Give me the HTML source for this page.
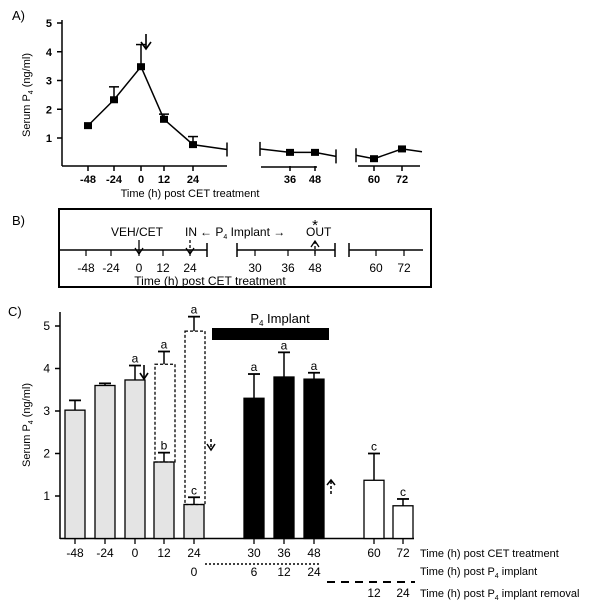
<!DOCTYPE html>
<html><head><meta charset="utf-8"><style>
body{margin:0;background:#fff}
svg{display:block;font-family:"Liberation Sans",sans-serif}
</style></head><body>
<svg id="fig" width="600" height="606" viewBox="0 0 600 606">
<g id="pa"></g>
<g id="pb"></g>
<g id="pc"></g>
</svg>
<script>
// Panel A data
const aCats=[-48,-24,0,12,24,36,48,60,72];
const aVals=[1.43,2.33,3.48,1.65,0.77,0.5,0.5,0.28,0.62];
const aErr=[0,0.45,0.77,0.18,0.28,0,0,0,0];
const aTicks=[1,2,3,4,5];
// Panel C data
const cCats=["-48","-24","0","12","24","30","36","48","60","72"];
const cVals=[3.02,3.6,3.73,1.8,0.8,3.3,3.8,3.75,1.37,0.77];
const cErr=[0.23,0.05,0.34,0.22,0.17,0.57,0.58,0.15,0.63,0.16];
const cLetters=["","","a","b","c","a","a","a","c","c"];
const cKind=["g","g","g","g","g","b","b","b","w","w"];
const cDashCats=["12","24"];
const cDashVals=[4.1,4.88];
const cDashErr=[0.3,0.34];
const cTicks=[1,2,3,4,5];
const implantLabels=["0","6","12","24"];
const removalLabels=["12","24"];

const NS="http://www.w3.org/2000/svg";
function el(p,t,a,txt){const e=document.createElementNS(NS,t);for(const k in a)e.setAttribute(k,a[k]);if(txt!==undefined)e.textContent=txt;p.appendChild(e);return e;}
const pa=document.getElementById('pa'),pb=document.getElementById('pb'),pc=document.getElementById('pc');

// ---------- Panel A ----------
let t=el(pa,'text',{x:12,y:20,'font-size':13},'A)');


const ay=v=>166.75-v*28.75;
const axPos={"-48":88,"-24":114,"0":141,"12":164,"24":193,"36":290,"48":315,"60":374,"72":402};
const ax=c=>axPos[String(c)];
el(pa,'line',{x1:62,y1:20,x2:62,y2:166,stroke:'#000','stroke-width':1.5});
el(pa,'line',{x1:62,y1:166,x2:227,y2:166,stroke:'#000','stroke-width':1.5});
el(pa,'line',{x1:261,y1:167,x2:317,y2:167,stroke:'#000','stroke-width':1.5});
el(pa,'line',{x1:358,y1:166,x2:420,y2:166,stroke:'#000','stroke-width':1.5});
aTicks.forEach(v=>{el(pa,'line',{x1:57,y1:ay(v),x2:62,y2:ay(v),stroke:'#000','stroke-width':1.5});
 t=el(pa,'text',{x:52,y:ay(v)+4,'font-size':11,'font-weight':'bold','text-anchor':'end'},v);
 });
aCats.forEach(c=>{el(pa,'line',{x1:ax(c),y1:166,x2:ax(c),y2:171,stroke:'#000','stroke-width':1.5});
 t=el(pa,'text',{x:ax(c),y:183,'font-size':11,'font-weight':'bold','text-anchor':'middle'},c);
 });
t=el(pa,'text',{x:30,y:95,'font-size':11,'text-anchor':'middle',transform:'rotate(-90 30 95)'});
t.innerHTML='Serum P<tspan font-size="7" dy="3">4</tspan><tspan dy="-3"> (ng/ml)</tspan>';

t=el(pa,'text',{x:190,y:197,'font-size':11,'text-anchor':'middle'},'Time (h) post CET treatment');

function poly(pts){return pts.map(p=>p.join(',')).join(' ');}
const s1=aCats.slice(0,5).map((c,i)=>[ax(c),ay(aVals[i])]);s1.push([227,ay(0.6)]);
el(pa,'polyline',{points:poly(s1),fill:'none',stroke:'#000','stroke-width':1.5});
const s2=[[260,ay(0.62)]].concat(aCats.slice(5,7).map((c,i)=>[ax(c),ay(aVals[5+i])]));s2.push([336,ay(0.36)]);
el(pa,'polyline',{points:poly(s2),fill:'none',stroke:'#000','stroke-width':1.5});
const s3=[[356,ay(0.4)]].concat(aCats.slice(7,9).map((c,i)=>[ax(c),ay(aVals[7+i])]));s3.push([422,ay(0.52)]);
el(pa,'polyline',{points:poly(s3),fill:'none',stroke:'#000','stroke-width':1.5});
[[227,ay(0.6)],[260,ay(0.62)],[336,ay(0.36)],[356,ay(0.4)]].forEach(p=>el(pa,'line',{x1:p[0],y1:p[1]-7,x2:p[0],y2:p[1]+7,stroke:'#000','stroke-width':1.5}));
aCats.forEach((c,i)=>{
 if(aErr[i]>0){const y2=ay(aVals[i]+aErr[i]);el(pa,'line',{x1:ax(c),y1:ay(aVals[i]),x2:ax(c),y2:y2,stroke:'#000','stroke-width':1.5});el(pa,'line',{x1:ax(c)-5,y1:y2,x2:ax(c)+5,y2:y2,stroke:'#000','stroke-width':1.5});}
 const r=el(pa,'rect',{x:ax(c)-4,y:ay(aVals[i])-3.5,width:8,height:7,fill:'#000'});
 
});
el(pa,'line',{x1:146,y1:34,x2:146,y2:48,stroke:'#000','stroke-width':1.6});
el(pa,'polyline',{points:'141,42 146,49 151,42',fill:'none',stroke:'#000','stroke-width':1.6});

// ---------- Panel B ----------
t=el(pb,'text',{x:12,y:225,'font-size':13},'B)');

el(pb,'rect',{x:59,y:209,width:372,height:78,fill:'none',stroke:'#000','stroke-width':2});
el(pb,'line',{x1:59,y1:250,x2:207,y2:250,stroke:'#000','stroke-width':1.5});
el(pb,'line',{x1:237,y1:250,x2:335,y2:250,stroke:'#000','stroke-width':1.5});
el(pb,'line',{x1:349,y1:250,x2:423,y2:250,stroke:'#000','stroke-width':1.5});
[207,237,335,349].forEach(x=>el(pb,'line',{x1:x,y1:243,x2:x,y2:257,stroke:'#000','stroke-width':1.5}));
const bTicks=[["-48",86],["-24",111],["0",139],["12",163],["24",190],["30",255],["36",288],["48",315],["60",376],["72",404]];
bTicks.forEach(b=>{el(pb,'line',{x1:b[1],y1:250,x2:b[1],y2:256,stroke:'#000','stroke-width':1.2});
 t=el(pb,'text',{x:b[1],y:272,'font-size':12,'text-anchor':'middle'},b[0]);
 });
t=el(pb,'text',{x:210,y:285,'font-size':12,'text-anchor':'middle'},'Time (h) post CET treatment');

t=el(pb,'text',{x:137,y:236,'font-size':12,'text-anchor':'middle'},'VEH/CET');

el(pb,'line',{x1:139,y1:240,x2:139,y2:254,stroke:'#000','stroke-width':1.3});
el(pb,'polyline',{points:'135,248 139,254 143,248',fill:'none',stroke:'#000','stroke-width':1.3});
t=el(pb,'text',{x:185,y:236,'font-size':12},'IN');

el(pb,'line',{x1:190,y1:240,x2:190,y2:254,stroke:'#000','stroke-width':1.3,'stroke-dasharray':'3,2'});
el(pb,'polyline',{points:'186,248 190,254 194,248',fill:'none',stroke:'#000','stroke-width':1.3});
t=el(pb,'text',{x:200,y:236,'font-size':12});
t.innerHTML='<tspan font-weight="bold">←</tspan> P<tspan font-size="7" dy="3">4</tspan><tspan dy="-3"> Implant </tspan><tspan font-weight="bold">→</tspan>';

t=el(pb,'text',{x:306,y:236,'font-size':12},'OUT');

t=el(pb,'text',{x:315,y:230,'font-size':15,'text-anchor':'middle'},'*');
el(pb,'line',{x1:315,y1:241,x2:315,y2:254,stroke:'#000','stroke-width':1.3,'stroke-dasharray':'3,2'});
el(pb,'polyline',{points:'311,247 315,241 319,247',fill:'none',stroke:'#000','stroke-width':1.3});

// ---------- Panel C ----------
t=el(pc,'text',{x:8,y:316,'font-size':13},'C)');

const cy=v=>538.5-v*42.5;
const cPos={"-48":75,"-24":105,"0":135,"12":164,"24":194,"30":254,"36":284,"48":314,"60":374,"72":403};
const cx=c=>cPos[c];
const bw=20;
el(pc,'line',{x1:60,y1:312,x2:60,y2:539,stroke:'#000','stroke-width':1.5});
el(pc,'line',{x1:60,y1:538.5,x2:414,y2:538.5,stroke:'#000','stroke-width':1.5});
cTicks.forEach(v=>{el(pc,'line',{x1:55,y1:cy(v),x2:60,y2:cy(v),stroke:'#000','stroke-width':1.5});
 t=el(pc,'text',{x:50,y:cy(v)+4,'font-size':12,'text-anchor':'end'},v);
 });
t=el(pc,'text',{x:30,y:425,'font-size':11,'text-anchor':'middle',transform:'rotate(-90 30 425)'});
t.innerHTML='Serum P<tspan font-size="7" dy="3">4</tspan><tspan dy="-3"> (ng/ml)</tspan>';

cCats.forEach((c,i)=>{
 const x=cx(c);
 el(pc,'line',{x1:x,y1:538,x2:x,y2:544,stroke:'#000','stroke-width':1.3});
 t=el(pc,'text',{x:x,y:557,'font-size':12,'text-anchor':'middle'},c);
 
 const fill=cKind[i]=='g'?'#e4e4e4':cKind[i]=='b'?'#000':'#fff';
 const top=cVals[i]+cErr[i];
 el(pc,'line',{x1:x,y1:cy(cVals[i]),x2:x,y2:cy(top),stroke:'#000','stroke-width':1.5});
 el(pc,'line',{x1:x-6,y1:cy(top),x2:x+6,y2:cy(top),stroke:'#000','stroke-width':1.8});
 const r=el(pc,'rect',{x:x-bw/2,y:cy(cVals[i]),width:bw,height:538.5-cy(cVals[i]),fill:fill,stroke:'#000','stroke-width':1.3});
 
 if(cLetters[i]){t=el(pc,'text',{x:x,y:cy(top)-3,'font-size':12,'text-anchor':'middle'},cLetters[i]);
  }
});
cDashCats.forEach((c,i)=>{
 const x=cx(c),v=cDashVals[i],top=v+cDashErr[i];
 const bi=cCats.indexOf(c);
 const r=el(pc,'rect',{x:x-bw/2+1,y:cy(v),width:bw,height:cy(cVals[bi])-cy(v),fill:'none',stroke:'#000','stroke-width':1.3,'stroke-dasharray':'3,2'});
 
 el(pc,'line',{x1:x,y1:cy(v),x2:x,y2:cy(top),stroke:'#000','stroke-width':1.5});
 el(pc,'line',{x1:x-6,y1:cy(top),x2:x+6,y2:cy(top),stroke:'#000','stroke-width':1.8});
 t=el(pc,'text',{x:x,y:cy(top)-3,'font-size':12,'text-anchor':'middle'},'a');
 
});
el(pc,'line',{x1:144,y1:365,x2:144,y2:379,stroke:'#000','stroke-width':1.6});
el(pc,'polyline',{points:'140,373 144,379 148,373',fill:'none',stroke:'#000','stroke-width':1.6});
el(pc,'line',{x1:211,y1:439,x2:211,y2:450,stroke:'#000','stroke-width':1.5,'stroke-dasharray':'3,2'});
el(pc,'polyline',{points:'207,444 211,450 215,444',fill:'none',stroke:'#000','stroke-width':1.5});
el(pc,'line',{x1:331,y1:481,x2:331,y2:495,stroke:'#000','stroke-width':1.5,'stroke-dasharray':'3,2'});
el(pc,'polyline',{points:'327,485 331,480 335,485',fill:'none',stroke:'#000','stroke-width':1.5});
const ib=el(pc,'rect',{x:212,y:328,width:117,height:12,fill:'#000'});

t=el(pc,'text',{x:280,y:323,'font-size':13,'text-anchor':'middle'});
t.innerHTML='P<tspan font-size="8" dy="3">4</tspan><tspan dy="-3"> Implant</tspan>';

el(pc,'line',{x1:205,y1:564,x2:320,y2:564,stroke:'#000','stroke-width':1.5,'stroke-dasharray':'2,2'});
el(pc,'line',{x1:327,y1:582,x2:415,y2:582,stroke:'#000','stroke-width':2,'stroke-dasharray':'8,6'});
[194,254,284,314].forEach((x,i)=>{t=el(pc,'text',{x:x,y:576,'font-size':12,'text-anchor':'middle'},implantLabels[i]);
 });
[374,403].forEach((x,i)=>{t=el(pc,'text',{x:x,y:597,'font-size':12,'text-anchor':'middle'},removalLabels[i]);
 });
t=el(pc,'text',{x:420,y:557,'font-size':11},'Time (h) post CET treatment');

t=el(pc,'text',{x:420,y:575,'font-size':11});
t.innerHTML='Time (h) post P<tspan font-size="7" dy="3">4</tspan><tspan dy="-3"> implant</tspan>';

t=el(pc,'text',{x:420,y:597,'font-size':11});
t.innerHTML='Time (h) post P<tspan font-size="7" dy="3">4</tspan><tspan dy="-3"> implant removal</tspan>';

</script>
</body></html>
